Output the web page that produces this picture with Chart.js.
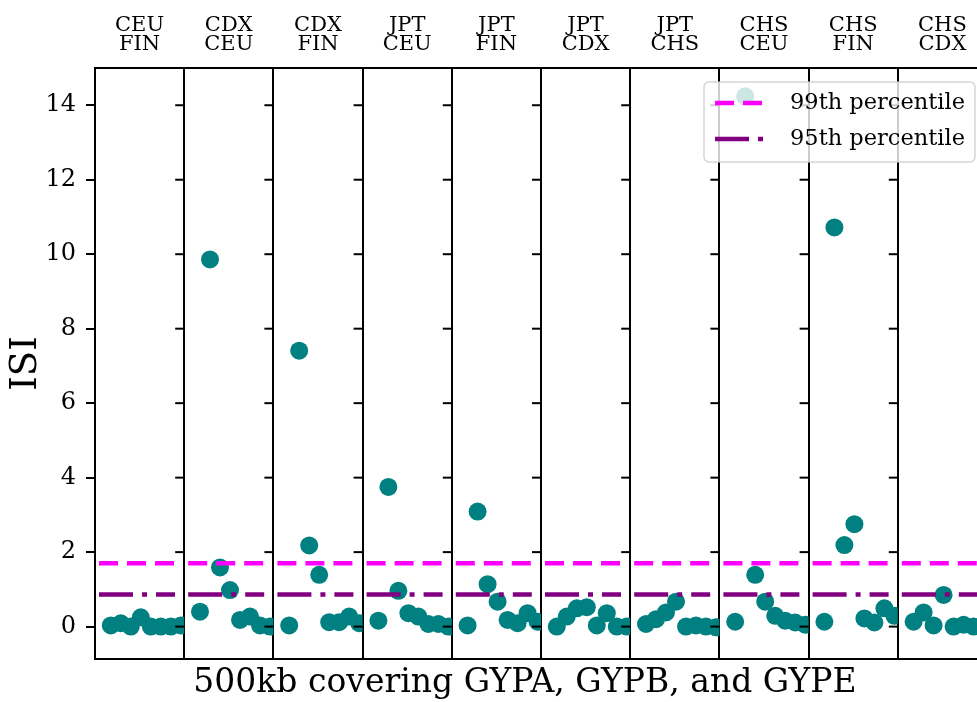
<!DOCTYPE html>
<html>
<head>
<meta charset="utf-8">
<script src="https://cdn.jsdelivr.net/npm/chart.js@4.4.1/dist/chart.umd.min.js"></script>
<style>
  html, body { margin: 0; padding: 0; background: #fff; overflow: hidden; }
  #wrap { width: 1050px; height: 702px; }
</style>
</head>
<body>
<div id="wrap"><canvas id="isiChart"></canvas></div>
<script>
// panel titles (two lines each)
const panelTop = ['CEU', 'CDX', 'CDX', 'JPT', 'JPT', 'JPT', 'JPT', 'CHS', 'CHS', 'CHS'];
const panelBottom = ['FIN', 'CEU', 'FIN', 'CEU', 'FIN', 'CDX', 'CHS', 'CEU', 'FIN', 'CDX'];

// ISI values per window, one array per population pair
const isiCeuFin = [0.03, 0.09, 0.0, 0.25, 0.0, 0.0, 0.0, 0.03];
const isiCdxCeu = [0.40, 9.86, 1.59, 0.98, 0.18, 0.27, 0.03, 0.0];
const isiCdxFin = [0.03, 7.41, 2.18, 1.39, 0.12, 0.12, 0.27, 0.09];
const isiJptCeu = [0.16, 3.75, 0.96, 0.36, 0.27, 0.07, 0.07, 0.0];
const isiJptFin = [0.03, 3.09, 1.14, 0.67, 0.18, 0.09, 0.36, 0.13];
const isiJptCdx = [0.0, 0.27, 0.49, 0.52, 0.03, 0.36, 0.0, 0.0];
const isiJptChs = [0.07, 0.20, 0.38, 0.67, 0.0, 0.03, 0.0, -0.02];
const isiChsCeu = [0.13, 14.24, 1.39, 0.67, 0.29, 0.16, 0.11, 0.05];
const isiChsFin = [0.13, 10.72, 2.19, 2.75, 0.22, 0.11, 0.49, 0.29];
const isiChsCdx = [0.13, 0.38, 0.03, 0.85, 0.0, 0.05, 0.0];

const panelValues = [isiCeuFin, isiCdxCeu, isiCdxFin, isiJptCeu, isiJptFin,
                     isiJptCdx, isiJptChs, isiChsCeu, isiChsFin, isiChsCdx];

const yTicks = [0, 2, 4, 6, 8, 10, 12, 14];
const pct99 = 1.7;
const pct95 = 0.86;

const xTitle = '500kb covering GYPA, GYPB, and GYPE';
const yTitle = 'ISI';

// layout inside a panel, in window steps
const PANEL_W = 8.92;
const FIRST_X = 1.58;
const LINE_FROM = 0.4;
const LINE_TO = 8.0;
const FONT = 'DejaVu Serif';

const panelEdges = panelTop.map((_, p) => p * PANEL_W).concat([panelTop.length * PANEL_W]);

const pointSets = panelValues.map((vals, p) => ({
    label: panelTop[p] + ' ' + panelBottom[p],
    panel: p,
    data: vals.map((v, i) => ({ x: p * PANEL_W + FIRST_X + i, y: v })),
    pointRadius: 9,
    pointHoverRadius: 9,
    pointBackgroundColor: '#008080',
    pointBorderWidth: 0,
    order: 1
}));

function thresholdData(value) {
    const data = [];
    panelTop.forEach((_, p) => {
        data.push({ x: p * PANEL_W + LINE_FROM, y: value });
        data.push({ x: p * PANEL_W + LINE_TO, y: value });
        data.push({ x: p * PANEL_W + LINE_TO + 0.1, y: null });
    });
    return data;
}

const lineSets = [
    {
        label: '99th percentile',
        data: thresholdData(pct99),
        showLine: true,
        spanGaps: false,
        pointRadius: 0,
        borderColor: '#ff00ff',
        borderWidth: 4.5,
        borderDash: [19, 9],
        borderCapStyle: 'butt',
        order: 0
    },
    {
        label: '95th percentile',
        data: thresholdData(pct95),
        showLine: true,
        spanGaps: false,
        pointRadius: 0,
        borderColor: '#800080',
        borderWidth: 4.5,
        borderDash: [34, 9, 5, 9],
        borderCapStyle: 'butt',
        order: 0
    }
];

// each panel clips its own points
const panelClip = {
    id: 'panelClip',
    beforeDatasetDraw(chart, args) {
        const ds = chart.data.datasets[args.index];
        if (ds.panel === undefined) return;
        const x = chart.scales.x;
        const area = chart.chartArea;
        const left = x.getPixelForValue(ds.panel * PANEL_W);
        const right = x.getPixelForValue((ds.panel + 1) * PANEL_W);
        chart.ctx.save();
        chart.ctx.beginPath();
        chart.ctx.rect(left, area.top, right - left, area.bottom - area.top);
        chart.ctx.clip();
    },
    afterDatasetDraw(chart, args) {
        if (chart.data.datasets[args.index].panel === undefined) return;
        chart.ctx.restore();
    }
};

// small y ticks on the left spine of every inner panel
const panelTicks = {
    id: 'panelTicks',
    afterDatasetsDraw(chart) {
        const { ctx, scales: { x, y } } = chart;
        ctx.save();
        ctx.strokeStyle = '#000';
        ctx.lineWidth = 2;
        for (let p = 1; p < panelTop.length; p++) {
            const px = x.getPixelForValue(p * PANEL_W);
            yTicks.forEach(t => {
                const py = y.getPixelForValue(t);
                ctx.beginPath();
                ctx.moveTo(px - 9, py);
                ctx.lineTo(px, py);
                ctx.stroke();
            });
        }
        ctx.restore();
    }
};

// legend box inside the upper right corner
const boxLegend = {
    id: 'boxLegend',
    afterDraw(chart) {
        const { ctx, chartArea } = chart;
        const items = chart.data.datasets.filter(d => d.showLine);
        const w = 271, h = 80;
        const left = chartArea.right - 12 - w;
        const top = chartArea.top + 14;
        ctx.save();
        ctx.beginPath();
        ctx.roundRect(left, top, w, h, 5);
        ctx.fillStyle = 'rgba(255,255,255,0.8)';
        ctx.fill();
        ctx.strokeStyle = 'rgba(204,204,204,0.8)';
        ctx.lineWidth = 1.5;
        ctx.stroke();
        items.forEach((d, i) => {
            const cy = top + 21 + i * 36;
            ctx.beginPath();
            ctx.setLineDash(d.borderDash);
            ctx.lineCap = 'butt';
            ctx.strokeStyle = d.borderColor;
            ctx.lineWidth = d.borderWidth;
            ctx.moveTo(left + 11, cy);
            ctx.lineTo(left + 59, cy);
            ctx.stroke();
            ctx.setLineDash([]);
            ctx.fillStyle = '#000';
            ctx.font = '22.5px "' + FONT + '"';
            ctx.textBaseline = 'middle';
            ctx.textAlign = 'left';
            ctx.fillText(d.label, left + 86, cy);
        });
        ctx.restore();
    }
};

new Chart(document.getElementById('isiChart'), {
    type: 'scatter',
    data: { datasets: lineSets.concat(pointSets) },
    options: {
        responsive: true,
        maintainAspectRatio: false,
        animation: false,
        layout: { padding: 0 },
        plugins: {
            legend: { display: false },
            tooltip: { enabled: false },
            title: {
                display: true,
                position: 'bottom',
                text: xTitle,
                color: '#000',
                font: { family: FONT, size: 33, weight: 'normal', lineHeight: 1.1 },
                padding: { top: 0, bottom: 0 }
            }
        },
        scales: {
            x: {
                type: 'linear',
                position: 'bottom',
                min: 0,
                max: PANEL_W * panelTop.length,
                afterBuildTicks: s => { s.ticks = panelEdges.map(v => ({ value: v })); },
                ticks: { display: false },
                grid: { color: '#000', lineWidth: 2, drawTicks: false },
                border: { color: '#000', width: 2 },
                afterFit: s => { s.height = 6.7; }
            },
            xTop: {
                type: 'linear',
                position: 'top',
                min: 0,
                max: PANEL_W * panelTop.length,
                afterBuildTicks: s => { s.ticks = panelTop.map((_, p) => ({ value: (p + 0.5) * PANEL_W })); },
                ticks: {
                    autoSkip: false,
                    maxRotation: 0,
                    color: '#000',
                    padding: 13,
                    font: { family: FONT, size: 21, lineHeight: 0.95 },
                    callback: (v, i) => [panelTop[i], panelBottom[i]]
                },
                grid: { drawOnChartArea: false, drawTicks: false },
                border: { color: '#000', width: 2 },
                afterFit: s => { s.height = 68; }
            },
            y: {
                min: -0.87,
                max: 15,
                afterBuildTicks: s => { s.ticks = yTicks.map(v => ({ value: v })); },
                ticks: { color: '#000', padding: 10, font: { family: FONT, size: 24 } },
                grid: { drawOnChartArea: false, color: '#000', lineWidth: 2, tickLength: 9 },
                border: { color: '#000', width: 2 },
                title: {
                    display: true,
                    text: yTitle,
                    color: '#000',
                    font: { family: FONT, size: 37 },
                    padding: { top: 4, bottom: 0 }
                },
                afterFit: s => { s.width = 95; }
            },
            yRight: {
                position: 'right',
                min: 0,
                max: 1,
                ticks: { display: false },
                grid: { display: false },
                border: { display: false },
                afterFit: s => { s.width = 63; }
            }
        }
    },
    plugins: [panelClip, panelTicks, boxLegend]
});
</script>
</body>
</html>
